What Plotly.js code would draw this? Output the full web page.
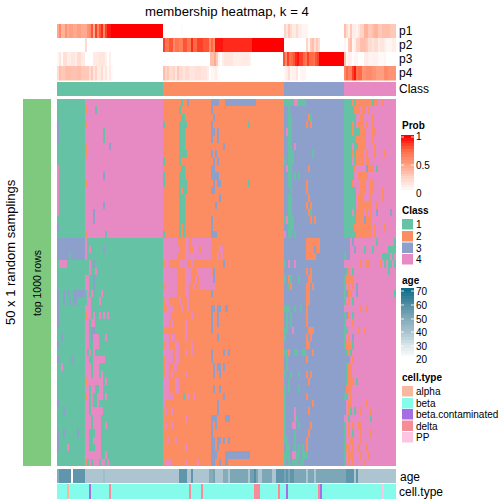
<!DOCTYPE html>
<html><head><meta charset="utf-8">
<script src="https://cdn.plot.ly/plotly-3.0.1.min.js"></script>
<style>html,body{margin:0;padding:0;background:#fff}#g{width:504px;height:504px}</style></head>
<body><div id="g"></div>
<script>
var classColors=['#66C2A5','#FC8D62','#8DA0CB','#E78AC3'];
var classNames=['1','2','3','4'];
var classSizes=[53,60,30,26];
var cellNames=['alpha','beta','beta.contaminated','delta','PP'];
var cellColors=['#F8B8A0','#85FBEC','#A66EE5','#F68C98','#FCC6E2'];
var probTicks=['1','0.5','0'];
var ageTicks=['70','60','50','40','30','20'];
var trackLabels=['p1','p2','p3','p4','Class'];

// value:count runs, left to right
var p1=".45:1 .6:1 .4:2 .55:1 .45:1 .5:2 .45:2 .5:2 .45:3 .55:1 .6:1 .8:1 .45:1 .85:1 .6:1 .8:1 .9:1 .6:1 .85:1 .95:2 1:26 0:9 .03:1 0:50 .25:1 .15:1 .3:1 .2:1 .12:2 .2:1 .1:2 .06:3 0:18 .35:1 .2:1 .1:1 .3:1 .1:2 .05:1 .15:1 .25:2 .4:2 .3:2 .35:1 .4:2 .3:2 .35:4 .3:3";
var p2="0:14 .2:1 0:38 .85:1 .7:2 .8:2 .6:1 .7:2 .65:2 .8:2 .7:2 .9:1 .75:2 .85:3 .8:3 .6:1 .75:1 .6:1 .95:4 .9:14 1:16 0:11 .25:1 .05:1 .3:1 .35:1 .2:1 .3:1 .2:1 0:12 .05:1 0:1 .3:1 .35:1 .05:1 .1:1 .25:2 .35:3 .3:1 .2:2 .15:1 .2:2 .1:1 .15:2 .1:1 .05:3 .1:2";
var p3=".05:1 .15:1 .03:1 .18:2 .1:2 .15:2 .1:1 .2:2 .12:2 0:4 .12:3 .15:3 .08:1 0:1 .1:1 0:26 0:23 .35:2 .45:1 .3:1 .05:1 0:1 .1:1 .15:4 .1:4 .12:4 .08:1 0:16 .8:1 .6:1 .85:1 .7:1 .75:1 .8:1 .9:1 .95:1 .85:2 .75:1 .7:1 .85:1 .75:2 .7:1 .8:1 .85:1 1:12 .35:1 .05:1 .1:1 .08:1 0:1 .05:2 0:3 .1:1 .12:1 .08:1 .05:1 .08:3 .03:3 .05:1 0:5";
var p4=".2:1 .35:1 .3:2 .35:3 .33:3 .35:2 .3:4 .2:1 .3:1 .15:1 .25:1 .12:2 .2:1 .08:1 .15:1 .05:1 .12:1 .02:1 0:25 .35:1 .25:1 .3:1 .2:2 .25:1 .15:1 .3:1 .2:2 .15:1 .2:2 .15:3 .18:3 .15:3 .1:1 0:1 .05:2 .1:1 .03:1 0:33 .05:1 .1:1 .2:1 .05:1 .08:2 .15:1 0:1 .05:3 0:19 .6:1 .75:1 .65:2 .85:1 .95:1 .7:1 .75:2 .55:2 .6:3 .55:2 .5:4 .6:2 .55:4";
var ageRuns="48:1 56:6 NA:1 56:6 38:9 41:1 38:37 56:4 38:2 56:1 38:8 48:2 51:1 38:4 48:2 38:1 50:9 38:1 52:2 58:1 50:1 38:2 50:5 38:2 56:4 51:1 56:1 50:1 56:2 50:6 38:1 50:3 38:1 50:2 50:13 56:4 38:1 56:1 38:19";
// cell types (1-5) as value:count runs
var cellRuns="2:5 1:1 2:10 3:1 2:9 4:1 2:39 4:1 2:5 4:1 2:25 4:3 2:9 4:1 2:3 3:1 2:15 4:1 3:1 2:30 5:1 2:6";

// membership matrix, one string of runs per sampling; a,b,c,d = class 1,2,3,4
var rowsA=["a14 d99","a14 b1 d4 a1 d99","a14 d99","c1 a13 b1 d99","c1 a13 d9 a1 d99","c1 a13 d9 a1 d99","a14 b1 d11 c1 d99","a14 b1 d99","a14 d99","d1 a13 d99","d1 a13 d9 c1 d99","d1 a13 b1 d99","d1 a13 d99","d1 a13 d99","d1 a13 d9 c1 d99","d1 a13 d4 c1 d99","a14 d4 c1 d99","c1 a13 d99","a14 b1 d9 a1 d99",
"c14 d1 a99","c14 d1 a1 d1 a6 c1 a99","c6 a1 c7 d1 a99","a1 d4 a11 d1 a1 c1 a99","a16 d1 a2 d1 a99","a14 d2 a2 c1 a99","a14 d2 a2 c1 a99","c1 a2 c1 a1 c1 a2 c6 a1 d1 a1 d1 a4 d1 a99","c1 a2 c1 a2 c1 a1 c2 a5 d2 a4 d1 a99","c1 a13 d3 a99","c1 a13 b1 d2 a1 d1 a2 d1 a1 d1 a1 d1 a99","c1 a13 d2 a1 d2 a99","a14 d2 a1 c2 a99","a2 c1 a11 d2 a1 c1 d3 a3 d1 a99","c1 a13 d2 a2 d3 a99","a14 d1 a1 d1 a1 d1 a99","c1 a6 c1 a6 d2 a2 d6 a99","a2 d1 a11 d3 a1 d3 a99","a14 d3 a1 d3 a1 d1 a99","a14 b1 d8 a1 d1 a99","a14 d2 a1 d2 a2 d2 a99","a14 b1 d1 a1 d1 a2 d3 a1 d1 a99","c1 a13 d2 a1 d1 a2 d1 a99","a3 c1 a10 d2 a1 d6 a99","a14 d3 a1 d4 a99","a14 d3 a1 d4 a2 d1 a99","c1 a2 c1 a6 c1 a3 d2 a3 d3 a99","c1 a13 d2 a2 d4 a99","c1 a4 d1 a8 d2 a3 d3 a99","a14 d8 a2 d1 a99","a14 b1 a1 d1 a1 d3 a1 d2 a1 d1 a99"];
var rowsB=["b9 a1 b2 c1 b11 c4 b3 c15 b99","b8 a1 b15 c1 b99","b9 a2 b14 c1 b99","a1 b7 a4 b12 c1 b17 a1 b99","b8 a3 b13 c2 b1 c1 b99","b8 a3 b13 c1 b2 c1 b99","b8 a3 b19 c1 b99","b8 a4 b12 c1 b1 c1 b99","a1 b7 a1 b16 c1 b1 c1 b99","b9 a2 b13 c2 b99","a1 b7 a3 b13 c4 b99","a1 b7 a4 b13 c1 b1 c2 b13 a1 b99","b8 a1 b1 a2 b12 c2 b99","b8 a3 b17 c1 b99","b8 a3 b15 c1 b99","b8 a3 b99","b8 a3 b13 c1 b99","b8 a1 b1 a1 b13 c1 b99","a1 b7 a1 b1 a1 b13 c3 b99",
"d7 b4 d2 b1 d10 b99","d8 b3 d2 b2 d3 b1 d5 b4 d2 b99","d7 b4 d13 b3 d1 b1 d1 b99","b1 d2 b5 d4 b2 d1 b15 c1 b99","d7 b4 d3 b3 d7 b1 c1 b99","d7 b4 d3 b2 d1 b1 d7 c1 b99","b1 d6 b4 d2 b2 d1 b2 d8 b99","d7 b4 d2 b11 c1 b99","b1 d2 b5 d1 b3 d1 b99","b2 d3 b4 d1 b2 d1 b11 c2 b1 c2 b2 c1 b99","d4 b10 d1 b9 c1 b2 c1 b99","d3 b1 d1 b6 d1 b12 c1 b2 c1 b99","b11 d1 b12 c1 b99","d3 b1 d2 b5 d1 b15 c1 b99","b1 d2 b3 d2 b6 d1 b99","d5 b1 d2 b3 d1 b2 d1 b9 c1 b5 c1 b1 c1 b99","b1 d4 b1 d2 b16 c1 b99","b1 d2 b2 d2 b18 c1 b1 c2 b1 c1 b99","b1 d2 b1 d1 b6 d1 b13 c1 b2 c1 b99","d3 b3 d2 b99","d3 b3 d2 b17 c1 b2 c1 b99","d5 b5 a1 b1 d1 b2 d1 b14 c1 b99","d1 b26 c1 b99","b1 d1 b2 d1 b22 c1 b99","b11 d1 b12 c3 b4 c2 b99","b1 d1 b2 d1 b19 c1 b1 c1 b99","b24 c1 b99","b2 d1 b3 d1 b17 c2 b1 c2 b1 c1 b1 c1 b99","b11 d1 b12 c2 b1 c1 b99","b24 c3 b4 c12 b99","b1 d3 b7 d1 b5 d1 b6 c2 b2 c1 b2 c1 b99"];
var rowsC=["a5 d2 a4 c99","c2 a1 c99","c2 a2 c8 b1 a1 c99","c2 a2 c7 b1 c1 b1 c99","c1 d1 a2 c99","c2 a2 c99","c2 a2 c1 d1 c99","c2 a3 c9 a1 c99","a1 c1 a3 c99","c1 d1 a2 c8 b1 c99","c2 a2 c1 a1 c1 a1 c99","c2 a2 c7 b1 c99","c3 a1 c7 b1 c99","c2 a2 c8 b1 c99","c2 a2 c7 b1 c1 b1 c99","c2 a2 c8 b1 a1 c99","a1 d1 a3 c8 b1 c1 b1 c99","c2 a3 c99","d1 c1 a2 c1 a1 c99",
"c11 b7 c99","c11 b4 c1 b2 c99","c11 b5 c99","a1 c1 d1 c2 d1 c99","c11 b1 c1 b1 c99","a1 c1 b1 a1 c3 a1 c4 b2 c99","c2 a1 b1 c7 b2 c1 b1 c99","c11 b2 c99","c11 b2 c99","a3 c2 a1 c2 a1 c2 b1 c99","c1 a1 c1 a1 c7 b1 c99","c1 a1 c1 a1 c7 b1 c99","a2 c2 d1 c7 b3 c99","a1 c10 b1 c1 b1 c99","c11 b2 c99","a2 b1 c2 a2 c2 a2 c3 b1 c99","c1 a1 c9 b1 c99","c1 a1 c99","a1 c2 a1 c3 a1 c3 b1 c1 b1 c99","c2 a1 c9 b1 c99","a1 c1 a1 c4 a1 c99","a1 c10 b1 c99","a1 c13 b1 c99","a1 c4 d1 c6 b1 c99","a1 c4 d1 a1 c99","a1 c3 d2 c1 a1 c5 b1 c99","a1 c4 a1 c6 b1 c99","a2 c3 a1 c5 b1 c99","c1 a2 c2 a1 c1 a1 c1 a1 c1 b1 c99","a3 c1 d2 a2 c1 a3 c99","a1 c1 a1 c1 a3 c1 a2 c99"];
var rowsD=["a4 b1 a1 b8 a1 b2 d2 b1 d99","a5 b3 d1 b2 d1 b1 d99","a6 d2 b2 d4 b1 d99","a4 b1 a1 d1 b3 d1 b1 d2 b1 d99","a4 b1 a3 b3 d3 b2 d99","a6 b5 d3 b1 d99","a4 d1 a2 b4 d4 b1 d99","a4 b1 a1 b4 d1 b1 d3 b1 d4 b1 d99","a4 d1 a1 b4 d1 b2 d99","a5 b1 d5 c1 b3 d1 a1 d99","a5 d2 b5 d99","a4 b1 d3 b3 d2 b2 d99","a6 d2 b3 d2 b2 d4 b1 d99","a6 d1 b3 d3 b1 d5 b1 d99","a6 d1 b7 d2 b1 d99","a4 d1 a1 b4 d1 b1 d1 b1 d2 c1 d6 c1 d99","a6 b4 c1 b3 d99","a5 b9 d1 b1 d4 b1 d99","a6 b8 d1 b1 d99",
"c3 d1 c1 d11 a1 d8 a2","c3 d2 c1 d4 a1 d3 a1 d7 a99","a1 c2 d16 a4 d1 a1 d99","d8 b1 d2 b2 d5 b1 d1 a1 d1 a2 d1 a99","c1 a1 b1 d1 a1 d17 a1 d99","a1 b4 d99","a1 d1 b1 d1 b1 d1 c1 d99","a1 c1 b2 d2 c1 d18 a1 d99","a1 d1 b1 d1 a1 d99","d8 b1 d2 b1 d99","a1 c1 b1 d1 a1 d99","a1 d3 b1 d99","a2 d5 b1 d2 b1 d99","a1 d1 b1 d1 c1 d99","a1 b3 a1 d99","c1 a1 b1 a1 d99","c3 d1 b1 d99","c1 a1 b2 d99","c1 a1 b2 d99","c1 a1 b3 d1 a1 d99","c1 b3 d99","a2 d1 b1 d99","c1 d1 b2 d7 b1 d99","c1 d1 b1 a1 d1 a1 d2 b1 d4 b1 d99","d2 a1 d10 a1 d99","a1 d1 b1 d1 b1 d2 b2 d99","a1 d1 b1 d1 a1 d3 b1 d4 b1 d99","a1 d2 b2 d3 b1 d99","a1 b2 d1 b1 d2 b1 d3 b1 d99","a1 d1 b3 d3 b1 d3 b1 d99","a1 d1 b1 d1 b1 d5 b1 d99"];

var probLevels=[1,.95,.9,.85,.8,.75,.7,.65,.6,.55,.5,.45,.4,.35,.3,.25,.2,.15,.1,.05,0];
var ageLevels=[70,68,66,64,62,60,58,56,54,52,50,48,46,44,42,40,38,36,34,32,30,28,26,24,22,20];

function runsToValues(s){var out=[];s.trim().split(/\s+/).forEach(function(t){var q=t.split(':'),n=+q[1],v=q[0]==='NA'?null:+q[0];for(var i=0;i<n;i++)out.push(v);});return out;}
function seg(s,len){var out=[];s.split(' ').forEach(function(t){var v='abcd'.indexOf(t[0])+1,n=+t.slice(1);for(var i=0;i<n&&out.length<len;i++)out.push(v);});while(out.length<len)out.push(out[out.length-1]);return out;}
function step(cols){var r=[],n=cols.length;cols.forEach(function(c,i){r.push([i/n,c]);r.push([(i+1)/n,c]);});return r;}
var W=504;
function fx(p){return p/W;} function fy(p){return 1-p/W;}
var matrix=rowsA.map(function(_,i){return seg(rowsA[i],classSizes[0]).concat(seg(rowsB[i],classSizes[1]),seg(rowsC[i],classSizes[2]),seg(rowsD[i],classSizes[3]));});
var classRow=[];classSizes.forEach(function(n,i){for(var k=0;k<n;k++)classRow.push(i+1);});

var probScale=[[0,'#FFFFFF'],[.25,'#FFD3C6'],[.5,'#FF9E81'],[.75,'#FF6A45'],[1,'#FF0000']];
var ageScale=[[0,'#FFFFFF'],[.2,'#D5E2E8'],[.36,'#ACC5D0'],[.6,'#7CA7B7'],[.72,'#6096AB'],[1,'#0F6D8A']];
var layout={width:504,height:504,margin:{l:0,r:0,t:0,b:0},paper_bgcolor:'#fff',plot_bgcolor:'rgba(0,0,0,0)',showlegend:false,shapes:[],annotations:[],font:{family:'Liberation Sans, Arial, sans-serif',color:'#000'}};
var traces=[],axN=0;
function addHeat(z,x0,x1,y0,y1,opts){axN++;var xa='xaxis'+(axN===1?'':axN),ya='yaxis'+(axN===1?'':axN);
 var nr=z.length,nc=z[0].length;
 layout[xa]={domain:[fx(x0),fx(x1)],range:[-.5,nc-.5],visible:false,fixedrange:true,anchor:'y'+(axN===1?'':axN)};
 layout[ya]={domain:[fy(y1),fy(y0)],range:[nr-.5,-.5],visible:false,fixedrange:true,anchor:'x'+(axN===1?'':axN)};
 traces.push(Object.assign({type:'heatmap',z:z,xaxis:'x'+(axN===1?'':axN),yaxis:'y'+(axN===1?'':axN),showscale:false,hoverinfo:'skip'},opts));}
function label(t,x,y,o){o=o||{};layout.annotations.push({text:t,xref:'paper',yref:'paper',x:fx(x),y:fy(y),xanchor:o.xa||'left',yanchor:'middle',showarrow:false,textangle:o.angle||0,font:{size:o.size||10,family:'Liberation Sans, Arial, sans-serif',color:'#000'},borderpad:0,borderwidth:0});}
function rect(x0,y0,x1,y1,c,lc){layout.shapes.push({type:'rect',xref:'paper',yref:'paper',x0:fx(x0),x1:fx(x1),y0:fy(y0),y1:fy(y1),fillcolor:c,line:{width:lc?1:0,color:lc||c},layer:'above'});}
function tick(x0,x1,y){layout.shapes.push({type:'line',xref:'paper',yref:'paper',x0:fx(x0),x1:fx(x1),y0:fy(y),y1:fy(y),line:{width:1,color:'rgba(255,255,255,.85)'},layer:'above'});}

var X0=57,X1=396;
var pTracks=[[p1,24,38],[p2,38,52],[p3,52,66],[p4,66,80.5]];
pTracks.forEach(function(t){addHeat([runsToValues(t[0])],X0,X1,t[1],t[2],{colorscale:probScale,zmin:0,zmax:1});});
addHeat([classRow],X0,X1,82,96,{colorscale:step(classColors),zmin:.5,zmax:4.5});
addHeat(matrix,X0,X1,99,466,{colorscale:step(classColors),zmin:.5,zmax:4.5});
addHeat([runsToValues(ageRuns)],X0,X1,469,483,{colorscale:ageScale,zmin:20,zmax:70});
addHeat([runsToValues(cellRuns)],X0,X1,484,499,{colorscale:step(cellColors),zmin:.5,zmax:5.5});

// legends gradients
addHeat(probLevels.map(function(v){return [v];}),401,414,135,193,{colorscale:probScale,zmin:0,zmax:1});
addHeat(ageLevels.map(function(v){return [v];}),401,414,288,359,{colorscale:ageScale,zmin:20,zmax:70});
[137,165].forEach(function(y,i){tick(401,404,y);tick(411,414,y);});
[291,305,319,332,346].forEach(function(y){tick(401,404,y);tick(411,414,y);});

// left annotation bar
rect(23,99,51,466,'#7FC97F');
label('top 1000 rows',37,283,{angle:-90,size:10.5,xa:'center'});
label('50 x 1 random samplings',10,252,{angle:-90,size:13,xa:'center'});
label('membership heatmap, k = 4',226.5,11,{size:13.2,xa:'center'});

trackLabels.forEach(function(t,i){label(t,399,[31,45,59,73,89][i],{size:12});});
label('age',400,477,{size:12});
label('cell.type',399,492,{size:12});

label('<b>Prob</b>',402,125,{size:10});
probTicks.forEach(function(t,i){label(t,416,[137,166,193][i]);});
label('<b>Class</b>',402,210,{size:10});
var cy=[219,231,242.5,254];
classNames.forEach(function(t,i){rect(402,cy[i],413,cy[i]+10.5,classColors[i]);label(t,416,cy[i]+5.5);});
label('<b>age</b>',402,280,{size:10});
ageTicks.forEach(function(t,i){label(t,416,[291,305,319,332,346,359][i]);});
label('<b>cell.type</b>',402,377,{size:10});
var ky=[386,398,409,420.5,432];
cellNames.forEach(function(t,i){rect(402,ky[i],413,ky[i]+10.5,cellColors[i]);label(t,416,ky[i]+5.5);});

Plotly.newPlot('g',traces,layout,{staticPlot:true,displayModeBar:false});
</script></body></html>
